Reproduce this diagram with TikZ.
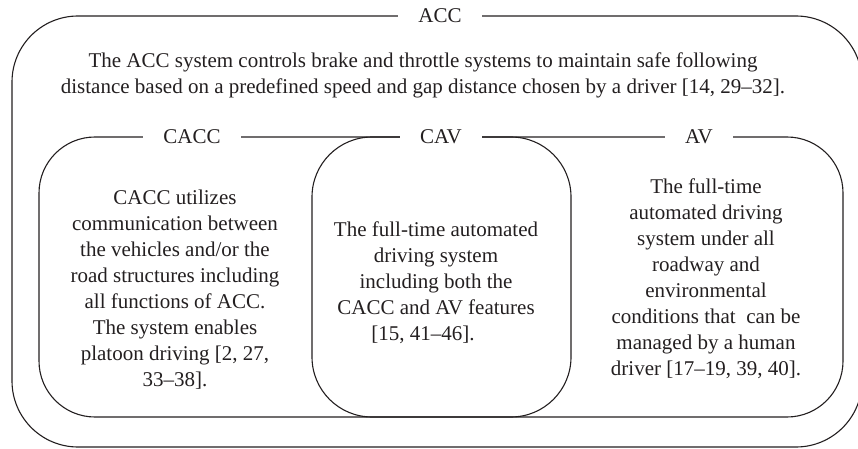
\documentclass[tikz,border=0pt]{standalone}
\usepackage{fontspec}
\setmainfont{Liberation Serif}
\definecolor{ink}{HTML}{231F20}
\begin{document}
\begin{tikzpicture}[x=1pt,y=-1pt,
  frame/.style={draw=ink, line width=1.1pt, rectangle, inner sep=0pt, fill=none},
  tag/.style={fill=white, text=ink, inner xsep=20pt, inner ysep=2pt, font=\fontsize{21}{26}\selectfont},
  body/.style={text=ink, align=center, inner sep=0pt, font=\fontsize{21}{26}\selectfont}]
\useasboundingbox (0,0) rectangle (858,449);
% frames
\node[frame, rounded corners=66pt, minimum width=850pt, minimum height=431pt] (acc) at (437,231.5) {};
\node[frame, rounded corners=56pt, minimum width=804pt, minimum height=280pt] (inner) at (441,277) {};
\node[frame, rounded corners=60pt, minimum width=259pt, minimum height=280pt] (cav) at (441.5,277) {};
% titles
\node[tag] (accT) at (440,16) {ACC};
\node[tag] (caccT) at (192,137) {CACC};
\node[tag] (cavT) at (441,137) {CAV};
\node[tag] (avT) at (699,137) {AV};
% texts
\node[body] (accB) at (423,75) {The ACC system controls brake and throttle systems to maintain safe following\\distance based on a predefined speed and gap distance chosen by a driver [14, 29–32].};
\node[body] (caccB) at (175,290) {CACC utilizes\\communication between\\the vehicles and/or the\\road structures including\\all functions of ACC.\\The system enables\\platoon driving [2, 27,\\33–38].};
\node[body] (cavB) at (436,283) {The full-time automated\\driving system\\including both the\\CACC and AV features\\{}[15, 41–46].\mbox{}\hspace{26pt}\mbox{}};
\node[body] (avB) at (706,279) {The full-time\\automated driving\\system under all\\roadway and\\environmental\\conditions that\ \ can be\\managed by a human\\driver [17–19, 39, 40].};
\end{tikzpicture}
\end{document}
